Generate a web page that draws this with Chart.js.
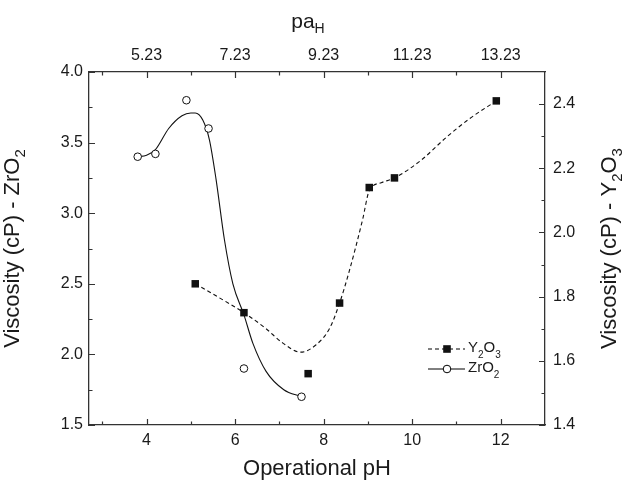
<!DOCTYPE html>
<html>
<head>
<meta charset="utf-8">
<script src="https://cdn.jsdelivr.net/npm/chart.js@4.4.0/dist/chart.umd.min.js"></script>
<style>
  body { margin: 0; background: #fff; }
  #wrap { width: 625px; height: 486px; position: relative; }
</style>
</head>
<body>
<div id="wrap"><canvas id="myChart"></canvas></div>
<script>
// measured points
const zrPH = [3.8, 4.2, 4.9, 5.4, 6.2, 7.5];
const zrVisc = [3.40, 3.42, 3.80, 3.60, 1.90, 1.70];
const yPH = [5.1, 6.2, 7.65, 8.36, 9.03, 9.6, 11.9];
const yVisc = [1.84, 1.75, 1.56, 1.78, 2.14, 2.17, 2.41];

// fitted curves
const zrFitPH = [3.8, 4.0, 4.2, 4.5, 4.8, 5.0, 5.1, 5.27, 5.42, 5.57, 5.76, 5.95, 6.2, 6.4, 6.7, 7.1, 7.5];
const zrFitVisc = [3.40, 3.41, 3.45, 3.60, 3.69, 3.71, 3.71, 3.66, 3.52, 3.24, 2.81, 2.50, 2.28, 2.08, 1.88, 1.75, 1.70];
const yFitPH = [5.1, 5.6, 6.2, 6.7, 7.08, 7.48, 7.83, 8.13, 8.36, 8.58, 8.88, 9.03, 9.3, 9.6, 10.2, 10.76, 11.3, 11.9];
const yFitVisc = [1.84, 1.80, 1.75, 1.70, 1.655, 1.627, 1.65, 1.70, 1.78, 1.88, 2.04, 2.13, 2.155, 2.17, 2.225, 2.295, 2.355, 2.41];

// tick values / labels
const phTicks = [4, 6, 8, 10, 12];
const phMinor = [3, 5, 7, 9, 11];
const paHLabels = ["5.23", "7.23", "9.23", "11.23", "13.23"];
const zrTicks = [1.5, 2.0, 2.5, 3.0, 3.5, 4.0];
const zrMinor = [1.75, 2.25, 2.75, 3.25, 3.75];
const yTicks = [1.4, 1.6, 1.8, 2.0, 2.2, 2.4];
const yMinor = [1.5, 1.7, 1.9, 2.1, 2.3];

const FONT = '"Liberation Sans", Arial, sans-serif';
const axisColor = '#333';
const textColor = '#1a1a1a';

const toXY = (xs, ys) => xs.map((x, i) => ({x: x, y: ys[i]}));

// draws text with subscript parts, centered at (x, y)
function richText(ctx, parts, x, y, size, subDrop) {
    const subSize = Math.round(size * 0.68);
    const drop = size * (subDrop || 0.35);
    let w = 0;
    parts.forEach(p => {
        ctx.font = (p.sub ? subSize : size) + 'px ' + FONT;
        p.w = ctx.measureText(p.t).width;
        w += p.w;
    });
    let cx = x - w / 2;
    ctx.textAlign = 'left';
    ctx.textBaseline = 'middle';
    parts.forEach(p => {
        ctx.font = (p.sub ? subSize : size) + 'px ' + FONT;
        ctx.fillText(p.t, cx, p.sub ? y + drop : y);
        cx += p.w;
    });
    return w;
}

// inward ticks + titles + legend
const decorations = {
    id: 'decorations',
    afterDraw(chart) {
        const ctx = chart.ctx;
        const {left, right, top, bottom} = chart.chartArea;
        const sx = chart.scales.x, sy = chart.scales.y, sy2 = chart.scales.y2;
        ctx.save();
        ctx.strokeStyle = axisColor;
        ctx.lineWidth = 1.2;
        ctx.beginPath();
        const major = 6, minor = 3.5;
        phTicks.concat(phMinor).forEach(v => {
            const len = phTicks.includes(v) ? major : minor;
            const px = Math.round(sx.getPixelForValue(v)) + 0.5;
            ctx.moveTo(px, bottom); ctx.lineTo(px, bottom - len);
            ctx.moveTo(px, top); ctx.lineTo(px, top + len);
        });
        zrTicks.concat(zrMinor).forEach(v => {
            const len = zrTicks.includes(v) ? major : minor;
            const py = Math.round(sy.getPixelForValue(v)) + 0.5;
            ctx.moveTo(left, py); ctx.lineTo(left + len, py);
        });
        yTicks.concat(yMinor).forEach(v => {
            const len = yTicks.includes(v) ? major : minor;
            const py = Math.round(sy2.getPixelForValue(v)) + 0.5;
            ctx.moveTo(right, py); ctx.lineTo(right - len, py);
        });
        ctx.stroke();

        // axis titles
        ctx.fillStyle = textColor;
        const midY = (top + bottom) / 2;
        richText(ctx, [{t: 'Operational pH'}], (left + right) / 2, 469, 22);
        richText(ctx, [{t: 'pa'}, {t: 'H', sub: true}], 308, 22, 21);

        ctx.save();
        ctx.translate(13, midY);
        ctx.rotate(-Math.PI / 2);
        richText(ctx, [{t: 'Viscosity (cP) - ZrO'}, {t: '2', sub: true}], 0, 0, 22);
        ctx.restore();

        ctx.save();
        ctx.translate(610, midY);
        ctx.rotate(-Math.PI / 2);
        richText(ctx, [{t: 'Viscosity (cP) - Y'}, {t: '2', sub: true}, {t: 'O'}, {t: '3', sub: true}], 0, 0, 22);
        ctx.restore();

        // legend
        const lx1 = 428, lx2 = 465, lxm = 447;
        const ly1 = 349, ly2 = 369;
        ctx.strokeStyle = '#000';
        ctx.lineWidth = 1;
        ctx.setLineDash([4, 3]);
        ctx.beginPath(); ctx.moveTo(lx1, ly1); ctx.lineTo(lx2, ly1); ctx.stroke();
        ctx.setLineDash([]);
        ctx.beginPath(); ctx.moveTo(lx1, ly2); ctx.lineTo(lx2, ly2); ctx.stroke();
        ctx.fillStyle = '#111';
        ctx.fillRect(lxm - 3.8, ly1 - 3.8, 7.6, 7.6);
        ctx.fillStyle = '#fff';
        ctx.beginPath(); ctx.arc(lxm, ly2, 3.8, 0, Math.PI * 2); ctx.fill(); ctx.stroke();
        ctx.fillStyle = textColor;
        const legParts1 = [{t: 'Y'}, {t: '2', sub: true}, {t: 'O'}, {t: '3', sub: true}];
        const legParts2 = [{t: 'ZrO'}, {t: '2', sub: true}];
        [[legParts1, ly1], [legParts2, ly2]].forEach(([parts, ly]) => {
            let w = 0;
            parts.forEach(p => { ctx.font = (p.sub ? 10 : 15) + 'px ' + FONT; w += ctx.measureText(p.t).width; });
            richText(ctx, parts, 468 + w / 2, ly - 1, 15, 0.5);
        });
        ctx.restore();
    }
};

const ctx = document.getElementById('myChart');

const data = {
    datasets: [
        {
            label: 'Y2O3',
            data: toXY(yPH, yVisc),
            yAxisID: 'y2',
            showLine: false,
            pointStyle: 'rect',
            pointRadius: 5.3,
            pointHoverRadius: 5.3,
            backgroundColor: '#111',
            borderColor: '#111',
            borderWidth: 0,
            order: 0,
        },
        {
            label: 'ZrO2',
            data: toXY(zrPH, zrVisc),
            yAxisID: 'y',
            showLine: false,
            pointStyle: 'circle',
            pointRadius: 3.8,
            pointHoverRadius: 3.8,
            backgroundColor: '#fff',
            borderColor: '#111',
            borderWidth: 1,
            order: 0,
        },
        {
            label: 'Y2O3 fit',
            data: toXY(yFitPH, yFitVisc),
            yAxisID: 'y2',
            showLine: true,
            pointRadius: 0,
            borderColor: '#111',
            borderWidth: 1.1,
            borderDash: [4, 3],
            cubicInterpolationMode: 'monotone',
            fill: false,
            order: 1,
        },
        {
            label: 'ZrO2 fit',
            data: toXY(zrFitPH, zrFitVisc),
            yAxisID: 'y',
            showLine: true,
            pointRadius: 0,
            borderColor: '#111',
            borderWidth: 1.1,
            cubicInterpolationMode: 'monotone',
            fill: false,
            order: 1,
        },
    ],
};

const tickFont = {family: FONT, size: 16};

const config = {
    type: 'scatter',
    data,
    plugins: [decorations],
    options: {
        responsive: true,
        maintainAspectRatio: false,
        animation: false,
        layout: {padding: 0},
        plugins: {
            legend: {display: false},
            tooltip: {enabled: false},
        },
        scales: {
            x: {
                type: 'linear',
                position: 'bottom',
                min: 2.7,
                max: 13.0,
                afterBuildTicks: s => { s.ticks = phTicks.map(v => ({value: v})); },
                afterFit: s => { s.height = 61; },
                grid: {display: false, drawTicks: false},
                border: {display: true, color: axisColor, width: 1.3},
                ticks: {font: tickFont, color: textColor, padding: 6, maxRotation: 0,
                    callback: v => String(v)},
            },
            xTop: {
                type: 'linear',
                position: 'top',
                min: 2.7,
                max: 13.0,
                afterBuildTicks: s => { s.ticks = phTicks.map(v => ({value: v})); },
                afterFit: s => { s.height = 72; },
                grid: {display: false, drawTicks: false},
                border: {display: true, color: axisColor, width: 1.3},
                ticks: {font: tickFont, color: textColor, padding: 7, maxRotation: 0,
                    callback: (v, i) => paHLabels[i]},
            },
            y: {
                type: 'linear',
                position: 'left',
                min: 1.5,
                max: 4.0,
                afterBuildTicks: s => { s.ticks = zrTicks.map(v => ({value: v})); },
                afterFit: s => { s.width = 89; },
                grid: {display: false, drawTicks: false},
                border: {display: true, color: axisColor, width: 1.3},
                ticks: {font: tickFont, color: textColor, padding: 6,
                    callback: v => v.toFixed(1)},
            },
            y2: {
                type: 'linear',
                position: 'right',
                min: 1.4,
                max: 2.5,
                afterBuildTicks: s => { s.ticks = yTicks.map(v => ({value: v})); },
                afterFit: s => { s.width = 80; },
                grid: {display: false, drawTicks: false},
                border: {display: true, color: axisColor, width: 1.3},
                ticks: {font: tickFont, color: textColor, padding: 8,
                    callback: v => v.toFixed(1)},
            },
        },
    },
};

const myChart = new Chart(ctx, config);
</script>
</body>
</html>
